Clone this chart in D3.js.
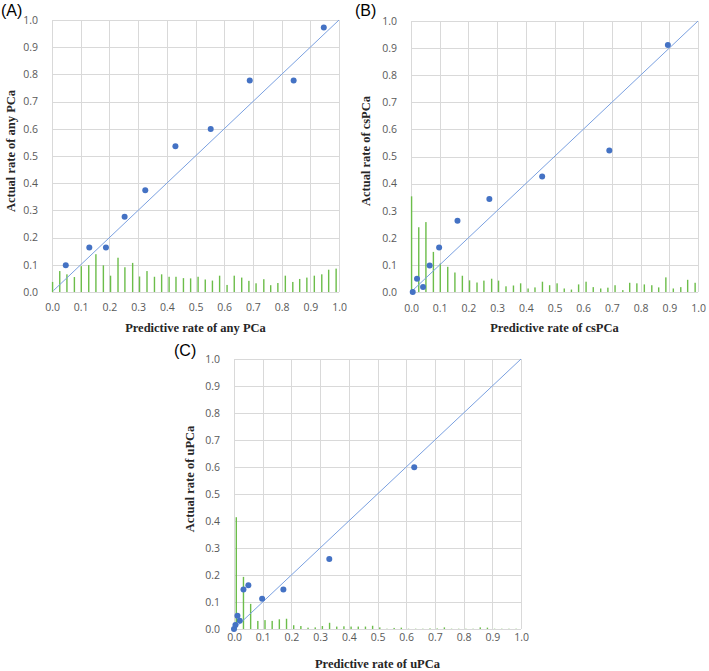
<!DOCTYPE html>
<html><head><meta charset="utf-8">
<script src="https://cdn.jsdelivr.net/npm/d3@7"></script>
<style>html,body{margin:0;padding:0;background:#fff;}svg{display:block;}</style>
</head><body>
<script>
// ---- data ----
const tickValues = [0,0.1,0.2,0.3,0.4,0.5,0.6,0.7,0.8,0.9,1.0];
const tickLabels = ["0.0","0.1","0.2","0.3","0.4","0.5","0.6","0.7","0.8","0.9","1.0"];

const binX = [0.002,0.027,0.052,0.078,0.102,0.128,0.153,0.179,0.204,0.230,0.254,0.281,0.305,0.331,0.357,0.382,0.408,0.432,0.458,0.483,0.509,0.534,0.559,0.584,0.610,0.635,0.661,0.686,0.711,0.738,0.762,0.787,0.813,0.839,0.863,0.888,0.914,0.940,0.964,0.990];
const binXC = [0.008,0.033,0.058,0.083,0.108,0.133,0.158,0.183,0.208,0.233,0.258,0.283,0.308,0.333,0.358,0.383,0.408,0.433,0.458,0.483,0.508,0.533,0.558,0.583,0.608,0.633,0.658,0.683,0.708,0.733,0.758,0.783,0.808,0.833,0.858,0.883,0.908,0.933,0.958,0.983];

const histA = [0.037,0.077,0.065,0.055,0.095,0.099,0.139,0.098,0.060,0.126,0.091,0.107,0.057,0.077,0.056,0.065,0.056,0.056,0.051,0.050,0.056,0.046,0.042,0.060,0.026,0.060,0.053,0.041,0.032,0.047,0.025,0.033,0.060,0.037,0.048,0.053,0.060,0.065,0.082,0.086];
const predA = [0.048,0.130,0.188,0.253,0.325,0.430,0.553,0.689,0.842,0.947];
const actA  = [0.098,0.164,0.164,0.277,0.374,0.536,0.599,0.778,0.778,0.972];

const histB = [0.353,0.239,0.258,0.148,0.105,0.093,0.072,0.060,0.043,0.035,0.042,0.049,0.042,0.021,0.024,0.032,0.013,0.017,0.038,0.025,0.032,0.013,0.009,0.028,0.038,0.018,0.013,0.016,0.025,0.007,0.034,0.032,0.028,0.025,0.017,0.054,0.013,0.018,0.045,0.034];
const predB = [0.006,0.021,0.042,0.065,0.098,0.162,0.273,0.457,0.691,0.895];
const actB  = [0.000,0.049,0.018,0.098,0.164,0.263,0.343,0.426,0.522,0.911];

const histC = [0.414,0.193,0.093,0.030,0.033,0.030,0.036,0.038,0.014,0.011,0.005,0.006,0.011,0.023,0.009,0.010,0.009,0.009,0.009,0.012,0.006,0.001,0.004,0.005,0.001,0.001,0.001,0.002,0.002,0.006,0.001,0.001,0.001,0.001,0.006,0.005,0.001,0.001,0.001,0.001];
const predC = [0.000,0.005,0.012,0.020,0.033,0.050,0.098,0.172,0.332,0.628];
const actC  = [0.000,0.015,0.049,0.031,0.146,0.162,0.112,0.146,0.259,0.599];

const panels = [
  {tag:"(A)", xTitle:"Predictive rate of any PCa", yTitle:"Actual rate of any PCa", binx:binX, hist:histA, pred:predA, act:actA,
   L:52, R:339, T:20, B:292, tagX:1, tagY:16, yTitleX:11, yTitleY:151, xTickY:307, xTitleY:332},
  {tag:"(B)", xTitle:"Predictive rate of csPCa", yTitle:"Actual rate of csPCa", binx:binX, hist:histB, pred:predB, act:actB,
   L:411, R:698, T:21, B:292, tagX:355, tagY:16, yTitleX:366, yTitleY:151, xTickY:308, xTitleY:332},
  {tag:"(C)", xTitle:"Predictive rate of uPCa", yTitle:"Actual rate of uPCa", binx:binXC, hist:histC, pred:predC, act:actC,
   L:234, R:521, T:359, B:629, tagX:174, tagY:356, yTitleX:190, yTitleY:479, xTickY:637, xTitleY:668}
];

const W = 709, H = 671;
const svg = d3.select("body").append("svg").attr("width", W).attr("height", H);
const tickFont = "'Open Sans', 'Liberation Sans', Arial, sans-serif";
const titleFont = "'Liberation Serif', 'DejaVu Serif', serif";

panels.forEach(p => {
  const x = d3.scaleLinear().domain([0,1]).range([p.L, p.R]);
  const y = d3.scaleLinear().domain([0,1]).range([p.B, p.T]);
  const g = svg.append("g");

  // gridlines
  g.selectAll(".hg").data(tickValues).join("line")
    .attr("x1", p.L).attr("x2", p.R)
    .attr("y1", d => Math.round(y(d)) + 0.5).attr("y2", d => Math.round(y(d)) + 0.5)
    .attr("stroke", "#d9d9d9").attr("stroke-width", 1);
  g.selectAll(".vg").data(tickValues).join("line")
    .attr("y1", p.T).attr("y2", p.B)
    .attr("x1", d => Math.round(x(d)) + 0.5).attr("x2", d => Math.round(x(d)) + 0.5)
    .attr("stroke", "#d9d9d9").attr("stroke-width", 1);

  // histogram bars
  g.selectAll(".bar").data(p.hist.map((v,i)=>({x:p.binx[i], v}))).join("rect")
    .attr("x", d => x(d.x) - 0.7).attr("width", 1.4)
    .attr("y", d => y(d.v)).attr("height", d => y(0) - y(d.v))
    .attr("fill", "#6cbd4a");

  // diagonal reference line
  g.append("line")
    .attr("x1", x(0.005)).attr("y1", y(0.005)).attr("x2", x(1)).attr("y2", y(1))
    .attr("stroke", "#7aa0e0").attr("stroke-width", 1);

  // points
  g.selectAll(".pt").data(p.pred.map((v,i)=>({x:v, y:p.act[i]}))).join("circle")
    .attr("cx", d => x(d.x)).attr("cy", d => y(d.y)).attr("r", 3)
    .attr("fill", "#4472c4");

  // axes (tick labels only)
  const xAxis = d3.axisBottom(x).tickValues(tickValues).tickFormat((d,i)=>tickLabels[i]).tickSize(0).tickPadding(0);
  const xa = g.append("g").attr("transform", `translate(0,${p.xTickY})`).call(xAxis);
  xa.select(".domain").remove();
  xa.selectAll("text").attr("fill", "#595959").attr("y", 0).attr("dy","0.35em")
    .style("font-family", tickFont).style("font-size","10.5px");

  const yAxis = d3.axisLeft(y).tickValues(tickValues).tickFormat((d,i)=>tickLabels[i]).tickSize(0).tickPadding(0);
  const ya = g.append("g").attr("transform", `translate(${p.L - 14},0)`).call(yAxis);
  ya.select(".domain").remove();
  ya.selectAll("text").attr("fill", "#595959")
    .style("font-family", tickFont).style("font-size","10.5px");

  // titles
  g.append("text").attr("x", (p.L + p.R)/2).attr("y", p.xTitleY)
    .attr("text-anchor","middle").attr("fill","#262626")
    .style("font-family", titleFont).style("font-weight","bold").style("font-size","12.5px")
    .text(p.xTitle);
  g.append("text").attr("transform", `translate(${p.yTitleX},${p.yTitleY}) rotate(-90)`)
    .attr("text-anchor","middle").attr("dy","0.35em").attr("fill","#262626")
    .style("font-family", titleFont).style("font-weight","bold").style("font-size","12.5px")
    .text(p.yTitle);
  g.append("text").attr("x", p.tagX).attr("y", p.tagY)
    .attr("fill","#000").style("font-family","'Liberation Sans', Arial, sans-serif").style("font-size","16px")
    .text(p.tag);
});
</script>
</body></html>
